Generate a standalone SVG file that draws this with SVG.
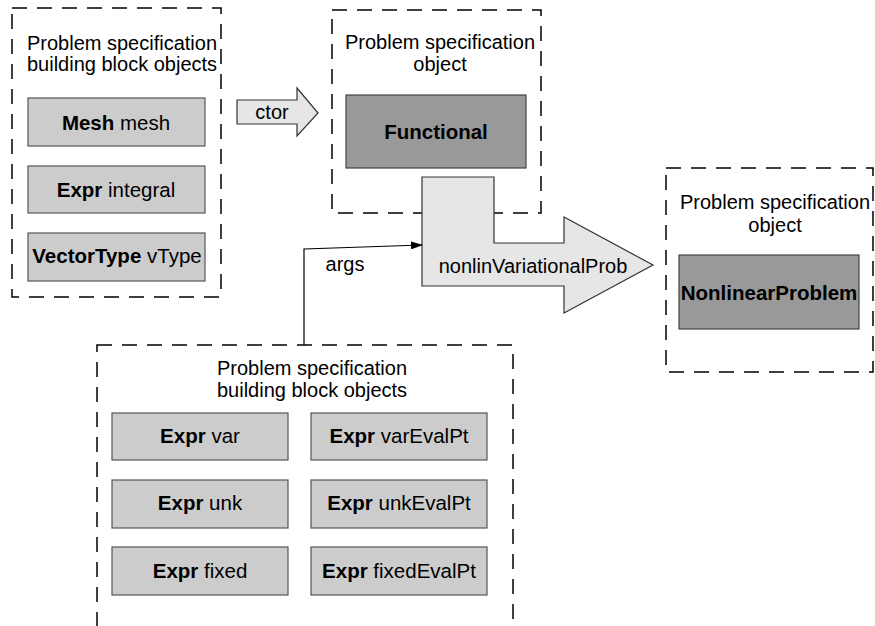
<svg xmlns="http://www.w3.org/2000/svg" width="875" height="626" viewBox="0 0 875 626">
<style>
text{font-family:"Liberation Sans",Arial,sans-serif;font-size:20px;fill:#000;text-anchor:middle}
.i{font-size:20.5px}
.b{font-weight:bold}
.dash{fill:none;stroke:#000;stroke-width:1.5;stroke-dasharray:15 10}
.item{fill:#cccccc;stroke:#555;stroke-width:1.2}
.dark{fill:#999999;stroke:#444;stroke-width:1.2}
.arr{fill:#e6e6e6;stroke:#333;stroke-width:1.2}
</style>
<defs>
<marker id="ah" markerWidth="12" markerHeight="8" refX="11" refY="4" orient="auto" markerUnits="userSpaceOnUse">
<path d="M0,0 L12,4 L0,8 Z" fill="#000"/>
</marker>
</defs>
<rect width="875" height="626" fill="#fff"/>

<g id="blocks1">
<rect class="dash" x="12" y="8" width="209" height="289"/>
<text x="122" y="50">Problem specification</text>
<text x="122" y="71">building block objects</text>
<g id="mesh"><rect class="item" x="28" y="98" width="177" height="48"/><text class="i" x="116" y="130"><tspan class="b">Mesh</tspan> mesh</text></g>
<g id="integral"><rect class="item" x="28" y="166" width="177" height="47"/><text class="i" x="116" y="197"><tspan class="b">Expr</tspan> integral</text></g>
<g id="vtype"><rect class="item" x="28" y="233" width="177" height="48"/><text class="i" x="117" y="263"><tspan class="b">VectorType</tspan> vType</text></g>
</g>

<g id="functionalObj">
<rect class="dash" x="332" y="10" width="209" height="203"/>
<text x="440" y="49">Problem specification</text>
<text x="440" y="71">object</text>
<g id="functional"><rect class="dark" x="346" y="95" width="180" height="73"/><text class="b i" x="436" y="139">Functional</text></g>
</g>

<g id="nonlinObj">
<rect class="dash" x="666" y="168" width="207" height="204"/>
<text x="775" y="209">Problem specification</text>
<text x="775" y="232">object</text>
<g id="nonlinear"><rect class="dark" x="679" y="255" width="180" height="74"/><text class="b i" x="769" y="300">NonlinearProblem</text></g>
</g>

<g id="blocks2">
<rect class="dash" x="97" y="345" width="416" height="300"/>
<text x="312" y="375">Problem specification</text>
<text x="312" y="397">building block objects</text>
<g id="var"><rect class="item" x="112" y="413" width="176" height="47"/><text class="i" x="200" y="443"><tspan class="b">Expr</tspan> var</text></g>
<g id="varEval"><rect class="item" x="311" y="413" width="176" height="47"/><text class="i" x="399" y="443"><tspan class="b">Expr</tspan> varEvalPt</text></g>
<g id="unk"><rect class="item" x="112" y="480" width="176" height="48"/><text class="i" x="200" y="510"><tspan class="b">Expr</tspan> unk</text></g>
<g id="unkEval"><rect class="item" x="311" y="480" width="176" height="48"/><text class="i" x="399" y="510"><tspan class="b">Expr</tspan> unkEvalPt</text></g>
<g id="fixed"><rect class="item" x="112" y="547" width="176" height="48"/><text class="i" x="200" y="578"><tspan class="b">Expr</tspan> fixed</text></g>
<g id="fixedEval"><rect class="item" x="311" y="547" width="176" height="48"/><text class="i" x="399" y="578"><tspan class="b">Expr</tspan> fixedEvalPt</text></g>
</g>

<g id="connectors">
<g id="ctor">
<path class="arr" d="M237,100 L297,100 L297,88 L318,113 L297,136 L297,124 L237,124 Z"/>
<text x="272" y="119">ctor</text>
</g>
<g id="nvp">
<path class="arr" d="M422,177 L494,177 L494,243 L564,243 L564,217 L653,265 L564,313 L564,286 L422,286 Z"/>
<text x="533" y="273">nonlinVariationalProb</text>
</g>
<g id="args">
<path d="M304,345 L304,249 L422,245" fill="none" stroke="#000" stroke-width="1.2" marker-end="url(#ah)"/>
<text x="345" y="271">args</text>
</g>
</g>
</svg>
